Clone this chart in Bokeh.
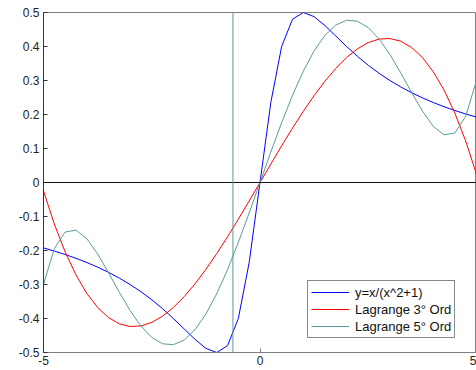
from bokeh.plotting import figure
from bokeh.models import Range1d, FixedTicker, LinearAxis, Span, Legend, LegendItem
from bokeh.embed import file_html
from bokeh.resources import INLINE

x_vals = [-5, -4.75, -4.5, -4.25, -4, -3.75, -3.5, -3.25, -3, -2.75, -2.5, -2.25, -2, -1.75, -1.5, -1.25, -1, -0.75, -0.5, -0.25,
          0, 0.25, 0.5, 0.75, 1, 1.25, 1.5, 1.75, 2, 2.25, 2.5, 2.75, 3, 3.25, 3.5, 3.75, 4, 4.25, 4.5, 4.75, 5]

y_func = [-0.1923, -0.2016, -0.2118, -0.223, -0.2353, -0.249, -0.2642, -0.2811, -0.3, -0.3212, -0.3448, -0.3711, -0.4, -0.4308, -0.4615, -0.4878, -0.5, -0.48, -0.4, -0.2353,
          0, 0.2353, 0.4, 0.48, 0.5, 0.4878, 0.4615, 0.4308, 0.4, 0.3711, 0.3448, 0.3212, 0.3, 0.2811, 0.2642, 0.249, 0.2353, 0.223, 0.2118, 0.2016, 0.1923]

y_lag3 = [-0.0246, -0.122, -0.2042, -0.272, -0.3262, -0.3677, -0.3972, -0.4156, -0.4235, -0.4219, -0.4115, -0.3931, -0.3675, -0.3355, -0.298, -0.2556, -0.2093, -0.1598, -0.1078, -0.0543,
          0, 0.0543, 0.1078, 0.1598, 0.2093, 0.2556, 0.298, 0.3355, 0.3675, 0.3931, 0.4115, 0.4219, 0.4235, 0.4156, 0.3972, 0.3677, 0.3262, 0.272, 0.2042, 0.122, 0.0246]

y_lag5 = [-0.3, -0.1945, -0.1456, -0.1403, -0.1653, -0.21, -0.265, -0.3226, -0.3766, -0.4222, -0.4556, -0.4744, -0.4771, -0.4632, -0.4328, -0.3871, -0.3275, -0.2564, -0.1761, -0.0896,
          0, 0.0896, 0.1761, 0.2564, 0.3275, 0.3871, 0.4328, 0.4632, 0.4771, 0.4744, 0.4556, 0.4222, 0.3766, 0.3226, 0.265, 0.21, 0.1653, 0.1403, 0.1456, 0.1945, 0.3]

vline_x = -0.625
x_ticks = [-5, 0, 5]
x_tick_labels = ["-5", "0", "5"]
y_ticks = [-0.5, -0.4, -0.3, -0.2, -0.1, 0, 0.1, 0.2, 0.3, 0.4, 0.5]
y_tick_labels = ["-0.5", "-0.4", "-0.3", "-0.2", "-0.1", "0", "0.1", "0.2", "0.3", "0.4", "0.5"]

labels = ["y=x/(x^2+1)", "Lagrange 3\u00b0 Ord", "Lagrange 5\u00b0 Ord"]
colors = ["#0000ff", "#ff0000", "#5a9a9a"]

FONT = "Liberation Sans"

p = figure(width=476, height=370, output_backend="svg", toolbar_location=None,
           x_range=Range1d(-5, 5), y_range=Range1d(-0.5, 0.5),
           min_border_left=43, min_border_right=0, min_border_top=12, min_border_bottom=18,
           x_axis_location=None, y_axis_location=None)
p.xgrid.visible = False
p.ygrid.visible = False
p.outline_line_color = "#808080"
p.background_fill_color = "white"
p.border_fill_color = "white"

def style_axis(ax, color):
    ax.axis_line_color = color
    ax.major_tick_line_color = color
    ax.major_tick_in = 4
    ax.major_tick_out = 0
    ax.minor_tick_line_color = None
    ax.major_label_text_font = FONT
    ax.major_label_text_color = "#222222"
    ax.major_label_text_font_size = "12px"

xb = LinearAxis(ticker=FixedTicker(ticks=x_ticks),
                major_label_overrides=dict(zip(x_ticks, x_tick_labels)))
style_axis(xb, "#808080")
xb.major_label_standoff = 3
p.add_layout(xb, "below")

yl = LinearAxis(ticker=FixedTicker(ticks=y_ticks),
                major_label_overrides=dict(zip(y_ticks, y_tick_labels)))
style_axis(yl, "#333333")
yl.major_label_standoff = 4
p.add_layout(yl, "left")

p.add_layout(Span(location=0, dimension="width", line_color="#111111", line_width=1))
p.add_layout(Span(location=vline_x, dimension="height", line_color=colors[2], line_width=1))

r1 = p.line(x_vals, y_func, line_color=colors[0], line_width=1)
r2 = p.line(x_vals, y_lag3, line_color=colors[1], line_width=1)
r3 = p.line(x_vals, y_lag5, line_color=colors[2], line_width=1)

legend = Legend(items=[LegendItem(label=labels[0], renderers=[r1]),
                       LegendItem(label=labels[1], renderers=[r2]),
                       LegendItem(label=labels[2], renderers=[r3])],
                location=(264, 14), margin=0, padding=3, spacing=1,
                glyph_width=38, glyph_height=16, label_height=16, label_standoff=6,
                label_text_font=FONT, label_text_font_size="13px", label_text_color="#111111",
                border_line_color="#111111", border_line_width=1,
                background_fill_color="white", background_fill_alpha=1)
p.add_layout(legend, "center")

open("out.html", "w").write(file_html(p, INLINE))
